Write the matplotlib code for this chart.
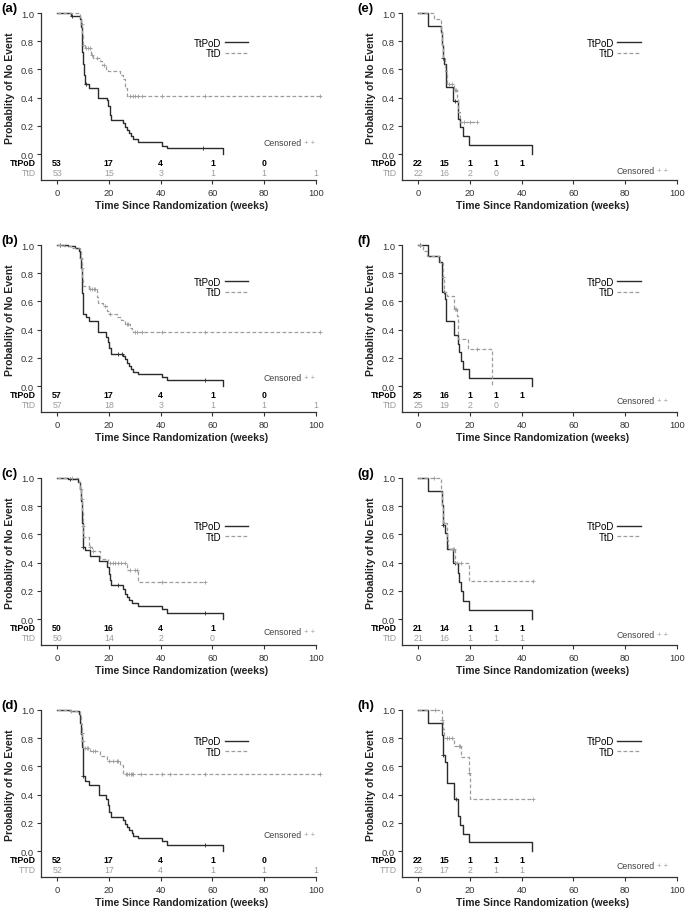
import numpy as np
import matplotlib
matplotlib.use('Agg')
import matplotlib.pyplot as plt
from matplotlib.lines import Line2D

plt.rcParams['font.family'] = ['Liberation Sans', 'DejaVu Sans']

# ---------------- data ----------------
# Panel (a)
A_TP_T = [5.5, 8.8, 9.2, 9.5, 9.8, 10.0, 10.3, 10.6, 12.5, 16.0, 19.2, 19.8, 20.3, 20.8, 25.4, 26.2, 27.0, 27.8, 28.6, 29.5, 31.4, 40.4, 42.3, 64.0]
A_TP_S = [0.98, 0.96, 0.90, 0.82, 0.72, 0.64, 0.56, 0.50, 0.47, 0.40, 0.38, 0.34, 0.28, 0.24, 0.22, 0.19, 0.17, 0.15, 0.13, 0.11, 0.085, 0.06, 0.04, 0.0]
A_TP_C = [5.8, 11.0, 56.5]
A_TD_T = [9.0, 9.3, 9.6, 9.9, 10.2, 10.6, 13.2, 13.8, 16.6, 17.3, 19.0, 19.6, 24.3, 25.4, 26.3, 27.2]
A_TD_S = [0.96, 0.92, 0.86, 0.81, 0.77, 0.75, 0.70, 0.68, 0.66, 0.63, 0.60, 0.59, 0.56, 0.53, 0.465, 0.415]
A_TD_C = [9.5, 10.2, 11.2, 12.0, 12.7, 13.5, 15.3, 18.0, 28.2, 29.2, 30.2, 31.4, 32.7, 40.4, 57.0, 101.5]
A_RISK_TP = [53, 17, 4, 1, 0]
A_RISK_TD = [53, 15, 3, 1, 1, 1]

# Panel (b)
B_TP_T = [4.4, 7.0, 8.3, 8.8, 9.2, 9.5, 9.8, 10.0, 10.2, 11.2, 12.5, 16.0, 19.0, 19.6, 20.2, 20.8, 25.4, 26.2, 27.0, 27.8, 28.6, 29.5, 31.4, 40.4, 42.3, 64.0]
B_TP_S = [0.99, 0.98, 0.96, 0.91, 0.84, 0.75, 0.66, 0.58, 0.51, 0.49, 0.46, 0.38, 0.35, 0.31, 0.27, 0.23, 0.21, 0.19, 0.16, 0.14, 0.12, 0.10, 0.085, 0.065, 0.045, 0.0]
B_TP_C = [1.2, 23.7, 25.0, 57.0]
B_TD_T = [2.5, 5.5, 8.8, 9.2, 9.5, 9.8, 10.2, 12.5, 15.3, 15.8, 17.9, 19.2, 20.0, 23.0, 24.5, 26.3, 28.0, 28.8, 29.5]
B_TD_S = [0.99, 0.98, 0.96, 0.91, 0.84, 0.77, 0.71, 0.69, 0.63, 0.59, 0.57, 0.53, 0.51, 0.49, 0.465, 0.44, 0.415, 0.395, 0.385]
B_TD_C = [1.0, 9.3, 9.5, 12.8, 13.5, 14.2, 14.7, 18.5, 20.3, 26.9, 27.5, 30.1, 31.0, 32.7, 40.4, 57.0, 101.5]
B_RISK_TP = [57, 17, 4, 1, 0]
B_RISK_TD = [57, 18, 3, 1, 1, 1]

# Panel (c)
C_TP_T = [4.4, 8.2, 8.8, 9.2, 9.5, 9.8, 10.0, 10.2, 10.8, 12.7, 16.3, 19.4, 20.0, 20.5, 21.0, 25.6, 26.3, 27.0, 27.8, 28.8, 31.4, 40.4, 42.3, 64.0]
C_TP_S = [0.99, 0.97, 0.92, 0.84, 0.76, 0.68, 0.60, 0.51, 0.49, 0.45, 0.41, 0.37, 0.32, 0.28, 0.24, 0.21, 0.18, 0.155, 0.135, 0.115, 0.09, 0.07, 0.045, 0.0]
C_TP_C = [5.0, 10.2, 23.7, 57.0]
C_TD_T = [8.5, 9.0, 9.4, 9.7, 10.0, 10.2, 12.5, 13.4, 16.6, 19.8, 26.9, 31.4]
C_TD_S = [0.97, 0.92, 0.85, 0.76, 0.66, 0.58, 0.51, 0.485, 0.425, 0.40, 0.35, 0.265]
C_TD_C = [5.7, 9.2, 9.6, 10.1, 12.8, 14.0, 20.5, 21.5, 22.5, 23.5, 24.5, 26.3, 28.2, 30.0, 31.0, 40.4, 57.1]
C_RISK_TP = [50, 16, 4, 1]
C_RISK_TD = [50, 14, 2, 0]

# Panel (d)
D_TP_T = [5.0, 8.5, 9.0, 9.3, 9.6, 9.9, 10.2, 10.8, 12.5, 16.3, 19.0, 19.5, 20.2, 20.8, 25.4, 26.2, 27.0, 27.8, 28.8, 29.5, 31.4, 40.4, 42.3, 64.0]
D_TP_S = [0.99, 0.97, 0.91, 0.83, 0.74, 0.64, 0.53, 0.50, 0.47, 0.40, 0.37, 0.33, 0.28, 0.24, 0.22, 0.19, 0.17, 0.15, 0.13, 0.11, 0.09, 0.07, 0.045, 0.0]
D_TP_C = [10.2, 57.0]
D_TD_T = [5.0, 8.8, 9.2, 9.5, 9.8, 10.2, 12.7, 16.6, 19.2, 24.3, 25.6]
D_TD_S = [0.99, 0.96, 0.90, 0.84, 0.78, 0.732, 0.709, 0.674, 0.639, 0.61, 0.545]
D_TD_C = [5.3, 9.5, 9.7, 10.0, 10.8, 11.5, 12.0, 13.8, 14.5, 20.2, 21.7, 23.0, 23.7, 26.6, 27.2, 27.8, 28.4, 29.0, 29.5, 32.5, 40.4, 43.6, 57.0, 101.5]
D_RISK_TP = [52, 17, 4, 1, 0]
D_RISK_TD = [52, 17, 4, 1, 1, 1]

# Panel (e)
E_TP_T = [4.0, 8.9, 9.2, 9.5, 10.2, 10.8, 13.6, 15.6, 16.2, 17.2, 19.8, 43.9]
E_TP_S = [0.909, 0.864, 0.773, 0.682, 0.636, 0.477, 0.377, 0.25, 0.19, 0.127, 0.066, 0.0]
E_TP_C = [9.6, 14.2]
E_TD_T = [6.2, 8.9, 9.3, 9.7, 10.4, 11.3, 14.0, 15.0, 15.6, 16.2]
E_TD_S = [0.955, 0.864, 0.773, 0.682, 0.59, 0.50, 0.455, 0.40, 0.30, 0.225]
E_TD_C = [12.0, 13.0, 14.2, 14.7, 17.8, 20.0, 22.7]
E_RISK_TP = [22, 15, 1, 1, 1]
E_RISK_TD = [22, 16, 2, 0]

# Panel (f)
F_TP_T = [4.0, 8.2, 9.1, 9.4, 10.3, 10.8, 13.9, 15.6, 16.0, 16.5, 17.2, 19.8, 43.9]
F_TP_S = [0.92, 0.88, 0.80, 0.67, 0.62, 0.46, 0.36, 0.30, 0.24, 0.176, 0.12, 0.059, 0.0]
F_TP_C = [0.8, 10.0]
F_TD_T = [1.8, 3.6, 8.5, 9.5, 10.0, 11.3, 13.9, 14.9, 15.3, 15.6, 19.4, 28.4]
F_TD_S = [0.955, 0.92, 0.875, 0.77, 0.67, 0.635, 0.545, 0.50, 0.42, 0.335, 0.26, 0.0]
F_TD_C = [0.8, 9.6, 14.3, 14.6, 22.7]
F_RISK_TP = [25, 16, 1, 1, 1]
F_RISK_TD = [25, 19, 2, 0]

# Panel (g)
G_TP_T = [4.0, 9.1, 9.5, 10.4, 11.0, 13.6, 15.6, 16.0, 16.6, 17.2, 19.8, 43.9]
G_TP_S = [0.905, 0.81, 0.666, 0.61, 0.50, 0.40, 0.33, 0.26, 0.20, 0.13, 0.065, 0.0]
G_TP_C = [9.8, 14.2]
G_TD_T = [8.9, 9.4, 9.8, 11.0, 11.7, 14.3, 19.8]
G_TD_S = [0.90, 0.80, 0.68, 0.56, 0.50, 0.40, 0.269]
G_TD_C = [6.0, 10.0, 13.5, 14.0, 15.2, 16.5, 44.3]
G_RISK_TP = [21, 14, 1, 1, 1]
G_RISK_TD = [21, 16, 1, 1, 1]

# Panel (h)
H_TP_T = [4.0, 9.1, 9.5, 10.4, 11.0, 14.0, 15.6, 16.2, 17.2, 19.8, 43.9]
H_TP_S = [0.91, 0.82, 0.68, 0.63, 0.48, 0.366, 0.25, 0.186, 0.12, 0.063, 0.0]
H_TP_C = [9.8, 14.6]
H_TD_T = [9.1, 9.5, 10.0, 13.9, 16.5, 19.6, 19.9]
H_TD_S = [0.93, 0.867, 0.80, 0.746, 0.67, 0.55, 0.37]
H_TD_C = [6.6, 9.3, 11.0, 12.0, 13.0, 16.0, 16.2, 19.7, 44.3]
H_RISK_TP = [22, 15, 1, 1, 1]
H_RISK_TD = [22, 17, 2, 1, 1]

RISK_X_LEFT = [0, 20, 40, 60, 80, 100]
RISK_X_RIGHT = [0, 10, 20, 30, 40]
X_TICKS = [0, 20, 40, 60, 80, 100]
Y_TICKS = [0.0, 0.2, 0.4, 0.6, 0.8, 1.0]

# ---------------- styling / layout ----------------
DARK = '#2b2b2b'
GRAY = '#9c9c9c'
AXC = '#333333'
FW, FH = 685, 912
XMIN, XMAX = -6.2, 102.0
YMIN, YMAX = -0.184, 1.0

fig = plt.figure(figsize=(FW / 100, FH / 100), dpi=100)

COL_X = [41, 402]
ROW_BOTTOM = [181, 413, 646, 878]
AX_W = 280.2
AX_H = 167


def km(ax, t, s, c, color, dashed):
    t = np.asarray(t, float)
    s = np.asarray(s, float)
    c = np.asarray(c, float)
    end = max(t[-1], c.max() if c.size else 0)
    xs = np.r_[0.0, t, end]
    ys = np.r_[1.0, s, s[-1]]
    kw = dict(color=color, lw=1.0, clip_on=False)
    if dashed:
        kw['dashes'] = (3, 1.8)
        kw['lw'] = 0.9
    ax.step(xs, ys, where='post', **kw)
    idx = np.searchsorted(t, c, side='right')
    cy = np.r_[1.0, s][idx]
    ax.plot(c, cy, ls='none', marker='+', ms=3.2, mew=0.6, color=color, clip_on=False)


panels = [
    ('(a)', 0, 0, A_TP_T, A_TP_S, A_TP_C, A_TD_T, A_TD_S, A_TD_C, RISK_X_LEFT, A_RISK_TP, A_RISK_TD, 'TtD', 0.79, 0.085),
    ('(b)', 0, 1, B_TP_T, B_TP_S, B_TP_C, B_TD_T, B_TD_S, B_TD_C, RISK_X_LEFT, B_RISK_TP, B_RISK_TD, 'TtD', 0.74, 0.06),
    ('(c)', 0, 2, C_TP_T, C_TP_S, C_TP_C, C_TD_T, C_TD_S, C_TD_C, RISK_X_LEFT, C_RISK_TP, C_RISK_TD, 'TtD', 0.66, -0.085),
    ('(d)', 0, 3, D_TP_T, D_TP_S, D_TP_C, D_TD_T, D_TD_S, D_TD_C, RISK_X_LEFT, D_RISK_TP, D_RISK_TD, 'TTD', 0.78, 0.12),
    ('(e)', 1, 0, E_TP_T, E_TP_S, E_TP_C, E_TD_T, E_TD_S, E_TD_C, RISK_X_RIGHT, E_RISK_TP, E_RISK_TD, 'TtD', 0.79, -0.12),
    ('(f)', 1, 1, F_TP_T, F_TP_S, F_TP_C, F_TD_T, F_TD_S, F_TD_C, RISK_X_RIGHT, F_RISK_TP, F_RISK_TD, 'TtD', 0.74, -0.105),
    ('(g)', 1, 2, G_TP_T, G_TP_S, G_TP_C, G_TD_T, G_TD_S, G_TD_C, RISK_X_RIGHT, G_RISK_TP, G_RISK_TD, 'TtD', 0.66, -0.11),
    ('(h)', 1, 3, H_TP_T, H_TP_S, H_TP_C, H_TD_T, H_TD_S, H_TD_C, RISK_X_RIGHT, H_RISK_TP, H_RISK_TD, 'TTD', 0.78, -0.105),
]

for (lab, col, row, tpt, tps, tpc, tdt, tds, tdc, rx, rtp, rtd, tdname, leg_y, cen_y) in panels:
    left = COL_X[col] / FW
    bottom = 1 - ROW_BOTTOM[row] / FH
    ax = fig.add_axes([left, bottom, AX_W / FW, AX_H / FH])
    ax.set_xlim(XMIN, XMAX)
    ax.set_ylim(YMIN, YMAX)
    for sp in ['top', 'right']:
        ax.spines[sp].set_visible(False)
    for sp in ['left', 'bottom']:
        ax.spines[sp].set_linewidth(0.9)
        ax.spines[sp].set_color(AXC)
    ax.spines['bottom'].set_bounds(XMIN, 100)
    ax.set_xticks(X_TICKS)
    ax.set_yticks(Y_TICKS)
    ax.set_yticklabels([f'{v:.1f}' for v in Y_TICKS])
    ax.tick_params(direction='out', length=3, width=0.8, colors=AXC, labelsize=6.7, pad=2)
    ax.tick_params(axis='x', pad=2.5)

    km(ax, tpt, tps, tpc, DARK, False)
    km(ax, tdt, tds, tdc, GRAY, True)

    # number at risk
    ax.text(-8.1, -0.062, 'TtPoD', ha='right', va='center', fontsize=6.3, fontweight='bold', color='black', clip_on=False)
    ax.text(-8.1, -0.133, tdname, ha='right', va='center', fontsize=6.3, color=GRAY, clip_on=False)
    for x, n in zip(rx, rtp):
        ax.text(x, -0.062, str(n), ha='center', va='center', fontsize=6.3, fontweight='bold', color='black')
    for x, n in zip(rx, rtd):
        ax.text(x, -0.133, str(n), ha='center', va='center', fontsize=6.3, color=GRAY)

    # legend
    lx = 73.7 if col == 0 else 86.0
    handles = [Line2D([], [], color=DARK, lw=1.0),
               Line2D([], [], color=GRAY, lw=0.9, dashes=(3, 1.8))]
    ax.legend(handles, ['TtPoD', 'TtD'], loc='center right',
              bbox_to_anchor=(lx, leg_y - 0.038), bbox_transform=ax.transData,
              markerfirst=False, frameon=False, fontsize=7, handlelength=2.4,
              handletextpad=0.3, labelspacing=0.06, borderpad=0, borderaxespad=0)

    # censored key
    cx = 94.6 if col == 0 else 91.5
    ax.text(cx, cen_y, 'Censored', ha='right', va='center', fontsize=6.3, color='#444444', clip_on=False)
    ax.text(cx + 0.9, cen_y, '+ +', ha='left', va='center', fontsize=5.5, color=GRAY, clip_on=False)

    # axis labels
    ax.text(0.5, -0.12, 'Time Since Randomization (weeks)', transform=ax.transAxes,
            ha='center', va='top', fontsize=7.5, fontweight='bold', color='#222222')
    ax.text(-31 / AX_W, (AX_H - (88 - 14)) / AX_H, 'Probablity of No Event', transform=ax.transAxes,
            ha='center', va='center', rotation=90, fontsize=7.5, fontweight='bold', color='#222222')
    lab_x = (1 - 41) / AX_W if col == 0 else (357 - 402) / AX_W
    ax.text(lab_x, 1 + 5 / AX_H, lab, transform=ax.transAxes, ha='left', va='center',
            fontsize=9.5, fontweight='bold', color='black')

fig.savefig('out.png', dpi=100)
